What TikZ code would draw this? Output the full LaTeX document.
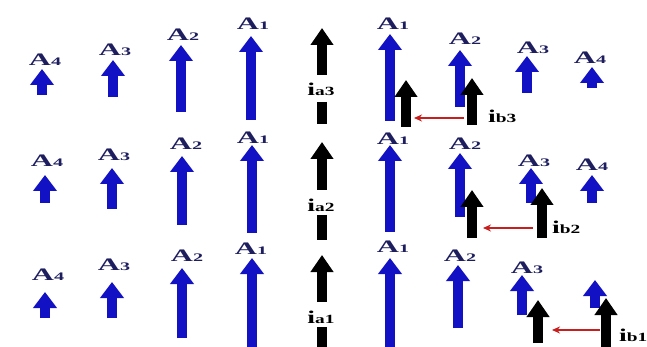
\documentclass[tikz,border=0pt]{standalone}
\usepackage{fontspec}
\setmainfont{Liberation Serif}
\usetikzlibrary{arrows.meta}
\definecolor{phblue}{RGB}{18,18,196}
\definecolor{labnavy}{RGB}{30,30,95}
\definecolor{redarr}{RGB}{200,30,30}
\newcommand\Alab[1]{\scalebox{1.75}[1]{\fontsize{17.5}{17.5}\selectfont\textbf{A}\fontsize{11.5}{11.5}\selectfont\textbf{#1}}}
\newcommand\ilab[2]{\scalebox{1.55}[1]{\fontsize{18}{18}\selectfont\textbf{i}\fontsize{12.5}{12.5}\selectfont\textbf{#1#2}}}
\tikzset{
  bluearr/.style={draw=phblue, line width=10pt, -{Triangle[width=23pt,length=16pt]}},
  blackarr/.style={draw=black, line width=10pt, -{Triangle[width=22pt,length=17pt]}},
  blackbar/.style={draw=black, line width=10pt},
  redarr/.style={draw=redarr, line width=1.8pt, -{Stealth[width=7pt,length=8pt]}},
  alab/.style={text=labnavy, inner sep=0pt},
  ilabel/.style={text=black, inner sep=0pt}
}
\begin{document}
\begin{tikzpicture}[x=1pt,y=-1pt]
\useasboundingbox (0,0) rectangle (647,347);
\fill[white] (0,0) rectangle (647,347);
% ---------- Row 1 ----------
\coordinate (r1a4b) at (42,95);  \coordinate (r1a4t) at (42,69);
\coordinate (r1a3b) at (113,97); \coordinate (r1a3t) at (113,60);
\coordinate (r1a2b) at (181,112);\coordinate (r1a2t) at (181,45);
\coordinate (r1a1b) at (251,120);\coordinate (r1a1t) at (251,36);
\draw[bluearr] (r1a4b) -- (r1a4t);
\draw[bluearr] (r1a3b) -- (r1a3t);
\draw[bluearr] (r1a2b) -- (r1a2t);
\draw[bluearr] (r1a1b) -- (r1a1t);
\node[alab] (l1a4) at (45,60) {\Alab{4}};
\node[alab] (l1a3) at (115,50) {\Alab{3}};
\node[alab] (l1a2) at (183,35) {\Alab{2}};
\node[alab] (l1a1) at (253,24) {\Alab{1}};
\coordinate (r1ca) at (322,75); \coordinate (r1ct) at (322,28);
\coordinate (r1cb1) at (322,102); \coordinate (r1cb2) at (322,124);
\draw[blackarr] (r1ca) -- (r1ct);
\draw[blackbar] (r1cb1) -- (r1cb2);
\node[ilabel] (ia3) at (321,89) {\ilab{a}{3}};
\coordinate (r1A1b) at (390,121); \coordinate (r1A1t) at (390,34);
\coordinate (r1A2b) at (460,107); \coordinate (r1A2t) at (460,50);
\coordinate (r1A3b) at (527,93);  \coordinate (r1A3t) at (527,56);
\coordinate (r1A4b) at (592,88);  \coordinate (r1A4t) at (592,67);
\draw[bluearr] (r1A1b) -- (r1A1t);
\draw[bluearr] (r1A2b) -- (r1A2t);
\draw[bluearr] (r1A3b) -- (r1A3t);
\draw[bluearr] (r1A4b) -- (r1A4t);
\node[alab] (l1A1) at (393,24) {\Alab{1}};
\node[alab] (l1A2) at (465,39) {\Alab{2}};
\node[alab] (l1A3) at (533,48) {\Alab{3}};
\node[alab] (l1A4) at (590,58) {\Alab{4}};
\coordinate (r1k1b) at (406,127); \coordinate (r1k1t) at (406,80);
\coordinate (r1k2b) at (472,125); \coordinate (r1k2t) at (472,78);
\draw[blackarr] (r1k1b) -- (r1k1t);
\draw[blackarr] (r1k2b) -- (r1k2t);
\draw[redarr] (464,118) -- (414,118);
\node[ilabel, anchor=west] (ib3) at (488,116) {\ilab{b}{3}};
% ---------- Row 2 ----------
\draw[bluearr] (45,203) -- (45,175);
\draw[bluearr] (112,209) -- (112,168);
\draw[bluearr] (182,225) -- (182,156);
\draw[bluearr] (252,233) -- (252,145);
\node[alab] (l2a4) at (47,161) {\Alab{4}};
\node[alab] (l2a3) at (114,155) {\Alab{3}};
\node[alab] (l2a2) at (186,144) {\Alab{2}};
\node[alab] (l2a1) at (253,138) {\Alab{1}};
\draw[blackarr] (322,190) -- (322,142);
\draw[blackbar] (322,215) -- (322,240);
\node[ilabel] (ia2) at (321,205) {\ilab{a}{2}};
\draw[bluearr] (390,232) -- (390,145);
\draw[bluearr] (460,217) -- (460,153);
\draw[bluearr] (531,203) -- (531,168);
\draw[bluearr] (592,203) -- (592,175);
\node[alab] (l2A1) at (393,139) {\Alab{1}};
\node[alab] (l2A2) at (465,144) {\Alab{2}};
\node[alab] (l2A3) at (534,161) {\Alab{3}};
\node[alab] (l2A4) at (592,165) {\Alab{4}};
\draw[blackarr] (472,238) -- (472,190);
\draw[blackarr] (542,238) -- (542,188);
\draw[redarr] (533,228) -- (483,228);
\node[ilabel, anchor=west] (ib2) at (552,227) {\ilab{b}{2}};
% ---------- Row 3 ----------
\draw[bluearr] (45,318) -- (45,292);
\draw[bluearr] (112,318) -- (112,282);
\draw[bluearr] (182,338) -- (182,268);
\draw[bluearr] (252,347) -- (252,258);
\node[alab] (l3a4) at (48,275) {\Alab{4}};
\node[alab] (l3a3) at (114,265) {\Alab{3}};
\node[alab] (l3a2) at (187,256) {\Alab{2}};
\node[alab] (l3a1) at (251,249) {\Alab{1}};
\draw[blackarr] (322,302) -- (322,255);
\draw[blackbar] (322,327) -- (322,347);
\node[ilabel] (ia1) at (321,317) {\ilab{a}{1}};
\draw[bluearr] (390,347) -- (390,258);
\draw[bluearr] (458,328) -- (458,265);
\draw[bluearr] (522,315) -- (522,275);
\draw[bluearr] (595,308) -- (595,280);
\node[alab] (l3A1) at (393,247) {\Alab{1}};
\node[alab] (l3A2) at (460,256) {\Alab{2}};
\node[alab] (l3A3) at (527,268) {\Alab{3}};
\draw[blackarr] (538,343) -- (538,300);
\draw[blackarr] (606,347) -- (606,298);
\draw[redarr] (600,330) -- (552,330);
\node[ilabel, anchor=west] (ib1) at (619,335) {\ilab{b}{1}};
\end{tikzpicture}
\end{document}
